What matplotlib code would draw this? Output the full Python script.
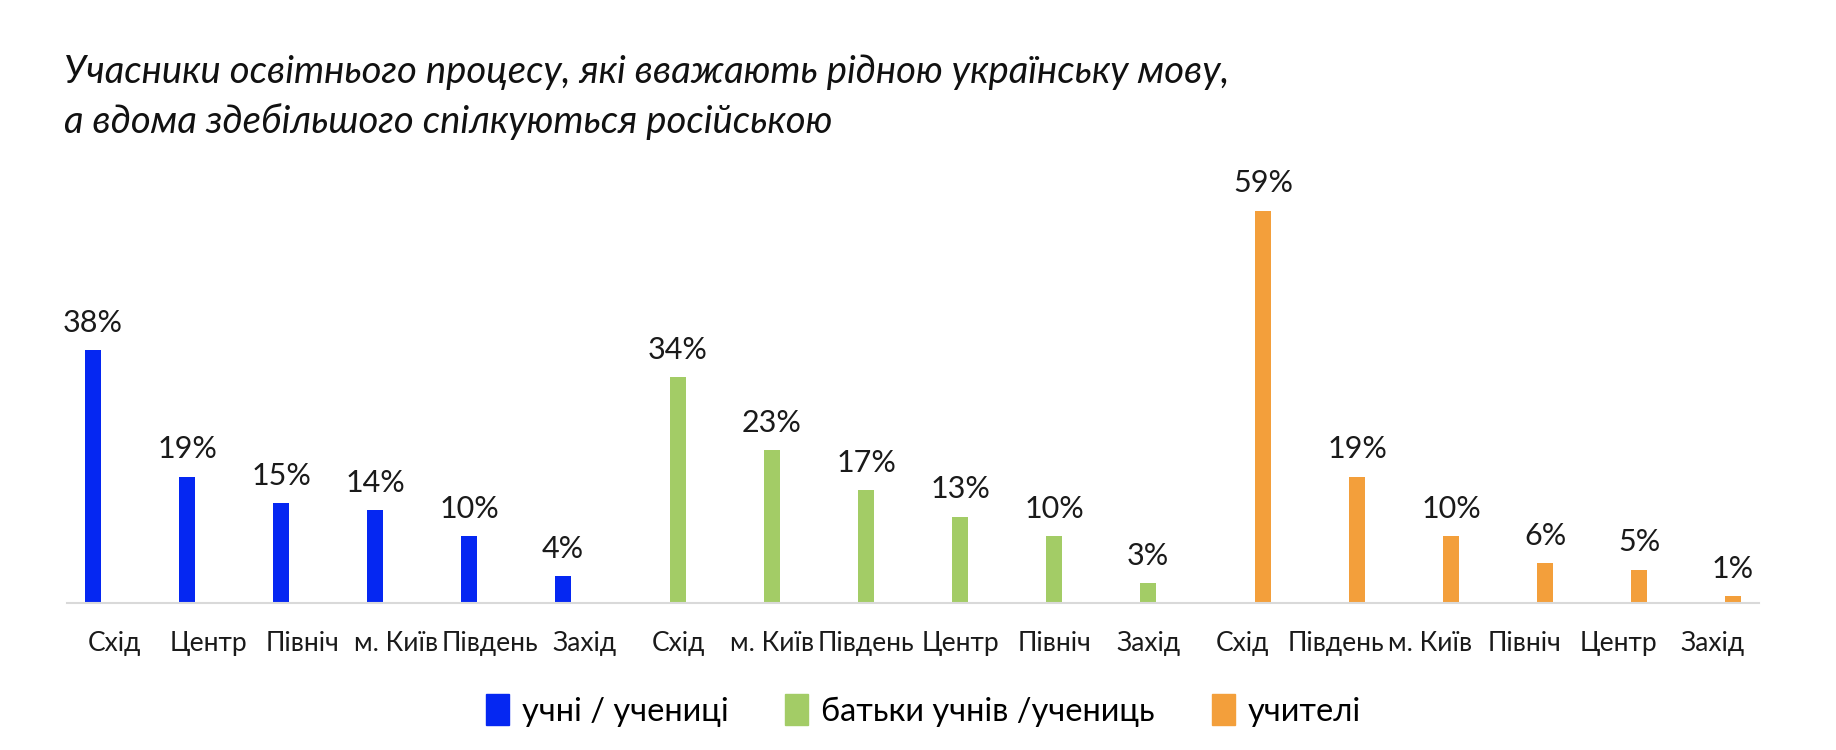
import numpy as np
import matplotlib.pyplot as plt
from matplotlib.patches import Patch

plt.rcParams['font.family'] = ['Lato', 'Open Sans', 'DejaVu Sans']

title = 'Учасники освітнього процесу, які вважають рідною українську мову,\nа вдома здебільшого спілкуються російською'

groups = ['учні / учениці', 'батьки учнів /учениць', 'учителі']
colors = ['#0527F2', '#A3CC66', '#F39F3B']

cats_pupils = ['Схід', 'Центр', 'Північ', 'м. Київ', 'Південь', 'Захід']
vals_pupils = [38, 19, 15, 14, 10, 4]

cats_parents = ['Схід', 'м. Київ', 'Південь', 'Центр', 'Північ', 'Захід']
vals_parents = [34, 23, 17, 13, 10, 3]

cats_teachers = ['Схід', 'Південь', 'м. Київ', 'Північ', 'Центр', 'Захід']
vals_teachers = [59, 19, 10, 6, 5, 1]

all_cats = [cats_pupils, cats_parents, cats_teachers]
all_vals = [vals_pupils, vals_parents, vals_teachers]

fig = plt.figure(figsize=(18.36, 7.5), dpi=100)
ax = fig.add_axes([0.0365, 0.196, 0.9216, 0.603])

# clustered layout: 18 categories, each series sits in its own slot
slot = 0.223
ticks, labels = [], []
for g, (cats, vals) in enumerate(zip(all_cats, all_vals)):
    pos = g * len(cats) + np.arange(len(cats))
    x = pos + (g - 1) * slot
    ax.bar(x, vals, width=0.17, color=colors[g])
    for xi, v in zip(x, vals):
        ax.text(xi, v + 2.0, f'{v}%', ha='center', va='bottom', fontsize=22, color='#1a1a1a')
    ticks += list(pos)
    labels += cats

ax.set_xlim(-0.5, 17.5)
ax.set_ylim(0, 68)
ax.set_xticks(ticks)
ax.set_xticklabels(labels, fontsize=19, color='#1a1a1a')
ax.tick_params(axis='x', length=0, pad=20)
ax.set_yticks([])
for s in ['top', 'right', 'left']:
    ax.spines[s].set_visible(False)
ax.spines['bottom'].set_color('#D9D9D9')
ax.spines['bottom'].set_linewidth(1.5)

fig.text(0.035, 0.814, title, fontsize=27.5, style='italic',
         color='#111111', ha='left', va='bottom', linespacing=1.42)

handles = [Patch(color=c) for c in colors]
fig.legend(handles, groups, loc='center', bbox_to_anchor=(0.503, 0.053), ncol=3,
           frameon=False, fontsize=23.5, handlelength=0.7, handleheight=1.1,
           handletextpad=0.4, columnspacing=1.75)

fig.savefig('out.png', dpi=100)
